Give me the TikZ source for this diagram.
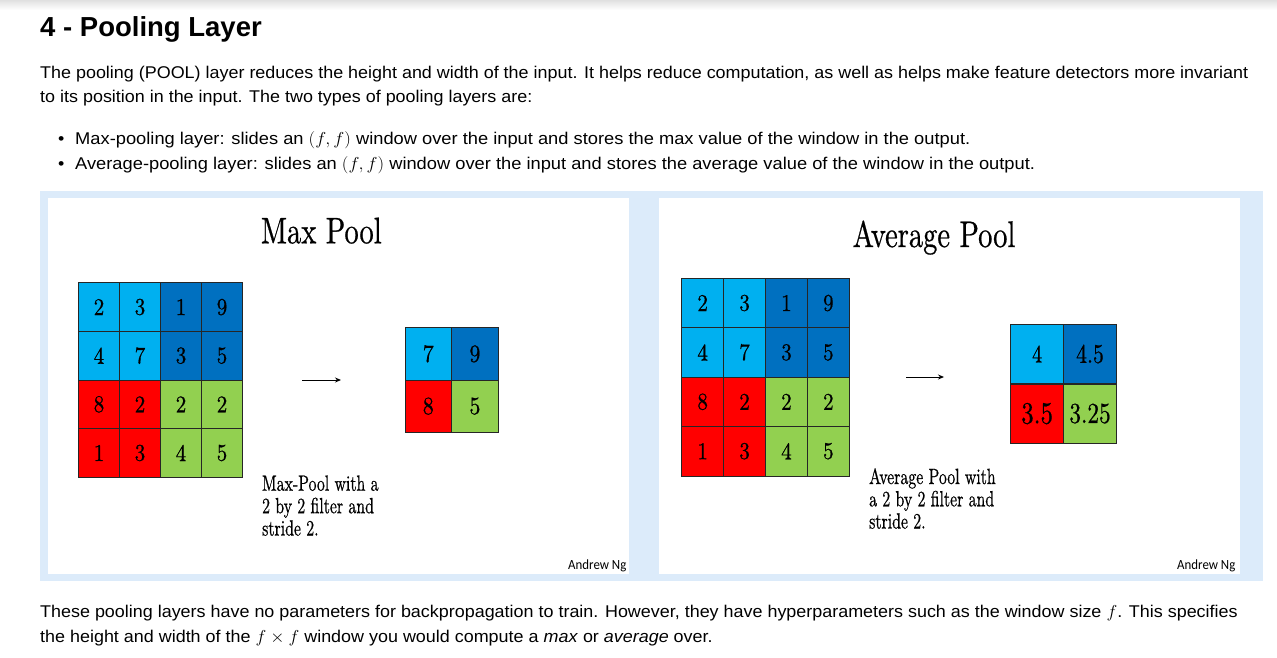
\documentclass[tikz,border=0pt]{standalone}
\usepackage{fontspec}
\usetikzlibrary{arrows.meta}
\newfontfamily\arialf{Liberation Sans}
\newfontfamily\calibrif{Carlito}
\newfontfamily\slidef{lmroman10-regular.otf}[FakeBold=0.7]
\definecolor{lblue}{RGB}{0,176,240}
\definecolor{dblue}{RGB}{0,112,192}
\definecolor{cred}{RGB}{255,0,0}
\definecolor{cgreen}{RGB}{146,208,80}
\definecolor{panelblue}{RGB}{220,235,250}
\tikzset{
  body/.style={font=\arialf\fontsize{17}{20}\selectfont, inner sep=0pt, anchor=base west, xscale=1.055},
  bullettext/.style={body, xscale=1.02},
  titlefont/.style={font=\arialf\bfseries\fontsize{27.5}{32}\selectfont, inner sep=0pt, anchor=base west},
  slidetitle/.style={font=\slidef\fontsize{37}{40}\selectfont, inner sep=0pt, anchor=base, xscale=0.77},
  caption/.style={font=\slidef\fontsize{22}{26}\selectfont, inner sep=0pt, anchor=base west, xscale=0.72},
  credit/.style={font=\calibrif\fontsize{14}{16}\selectfont, inner sep=0pt, anchor=base west, xscale=0.92},
  cellbox/.style={draw=black!85, line width=0.7pt, inner sep=0pt, anchor=center},
  incell/.style={cellbox, minimum width=41pt, minimum height=48.65pt},
  incellR/.style={cellbox, minimum width=41.9pt, minimum height=49.4pt},
  outcellM/.style={cellbox, minimum width=46.6pt, minimum height=52.3pt},
  outcellA/.style={cellbox, minimum width=52.9pt, minimum height=59.5pt},
  digit/.style={font=\slidef\fontsize{#1}{#1}\selectfont},
  flowarrow/.style={-{Stealth[length=6pt,width=5pt]}, line width=0.9pt}
}
\newcommand{\nx}[2][0.88]{\scalebox{#1}[1]{#2}}
\begin{document}
\begin{tikzpicture}[x=1pt,y=-1pt]
\useasboundingbox (0,0) rectangle (1277,657);
\fill[white] (0,0) rectangle (1277,657);
\shade[top color=black!12,bottom color=white] (0,0) rectangle (1277,10);

% header text
\node[titlefont] (title) at (40,36) {4 - Pooling Layer};
\node[body] (p1) at (40,78) {The pooling (POOL) layer reduces the height and width of the input. It helps reduce computation, as well as helps make feature detectors more invariant};
\node[body] (p2) at (40,102.5) {to its position in the input. The two types of pooling layers are:};
\node[body] (b1) at (58,144.5) {\textbullet};
\node[bullettext] (t1) at (75,144.5) {Max-pooling layer: slides an $(f,f)$ window over the input and stores the max value of the window in the output.};
\node[body] (b2) at (58,169) {\textbullet};
\node[bullettext] (t2) at (75,169) {Average-pooling layer: slides an $(f,f)$ window over the input and stores the average value of the window in the output.};

% panel
\fill[panelblue] (40,191) rectangle (1263,581);
\fill[white] (48,198) rectangle (629,574);
\fill[white] (659,198) rectangle (1240,574);

% ---------- Max pool slide ----------
\node[slidetitle] (mt) at (321.3,243.3) {Max Pool};
\foreach \r/\c/\v/\col in {1/1/2/lblue,1/2/3/lblue,1/3/1/dblue,1/4/9/dblue,
                            2/1/4/lblue,2/2/7/lblue,2/3/3/dblue,2/4/5/dblue,
                            3/1/8/cred,3/2/2/cred,3/3/2/cgreen,3/4/2/cgreen,
                            4/1/1/cred,4/2/3/cred,4/3/4/cgreen,4/4/5/cgreen}
  \node[incell, fill=\col, digit=24] (L\r\c) at ({78.5+41*(\c-0.5)},{282.7+48.65*(\r-0.5)}) {\nx{\v}};
\foreach \r/\c/\v/\col in {1/1/7/lblue,1/2/9/dblue,2/1/8/cred,2/2/5/cgreen}
  \node[outcellM, fill=\col, digit=25] (LO\r\c) at ({405+46.6*(\c-0.5)},{327.7+52.3*(\r-0.5)}) {\nx{\v}};
\coordinate (ma1) at (302,380);
\coordinate (ma2) at (341,380);
\draw[flowarrow] (ma1) -- (ma2);
\node[caption] (mc1) at (262,490.7) {Max-Pool with a};
\node[caption] (mc2) at (262,513.2) {2 by 2 filter and};
\node[caption] (mc3) at (262,535.5) {stride 2.};
\node[credit] (mcr) at (568,569) {Andrew Ng};

% ---------- Average pool slide ----------
\node[slidetitle] (at) at (934,247) {Average Pool};
\foreach \r/\c/\v/\col in {1/1/2/lblue,1/2/3/lblue,1/3/1/dblue,1/4/9/dblue,
                            2/1/4/lblue,2/2/7/lblue,2/3/3/dblue,2/4/5/dblue,
                            3/1/8/cred,3/2/2/cred,3/3/2/cgreen,3/4/2/cgreen,
                            4/1/1/cred,4/2/3/cred,4/3/4/cgreen,4/4/5/cgreen}
  \node[incellR, fill=\col, digit=24] (R\r\c) at ({681.7+41.9*(\c-0.5)},{278.3+49.4*(\r-0.5)}) {\nx{\v}};
\node[outcellA, fill=lblue, digit=25] (RO11) at (1037.1,354) {\nx[0.8]{4}};
\node[outcellA, fill=dblue, digit=27] (RO12) at (1090,354) {\nx[0.8]{4.5}};
\node[outcellA, fill=cred, digit=31] (RO21) at (1037.1,413.6) {\nx[0.8]{3.5}};
\node[outcellA, fill=cgreen, digit=29] (RO22) at (1090,413.6) {\nx[0.8]{3.25}};
\coordinate (aa1) at (906,377);
\coordinate (aa2) at (944,377);
\draw[flowarrow] (aa1) -- (aa2);
\node[caption] (ac1) at (869,484) {Average Pool with};
\node[caption] (ac2) at (869,506.3) {a 2 by 2 filter and};
\node[caption] (ac3) at (869,528.5) {stride 2.};
\node[credit] (acr) at (1177,569) {Andrew Ng};

% footer text
\node[body] (f1) at (40,617) {These pooling layers have no parameters for backpropagation to train. However, they have hyperparameters such as the window size $f$. This specifies};
\node[body] (f2) at (40,642) {the height and width of the $f\times f$ window you would compute a \textit{max} or \textit{average} over.};
\end{tikzpicture}
\end{document}
